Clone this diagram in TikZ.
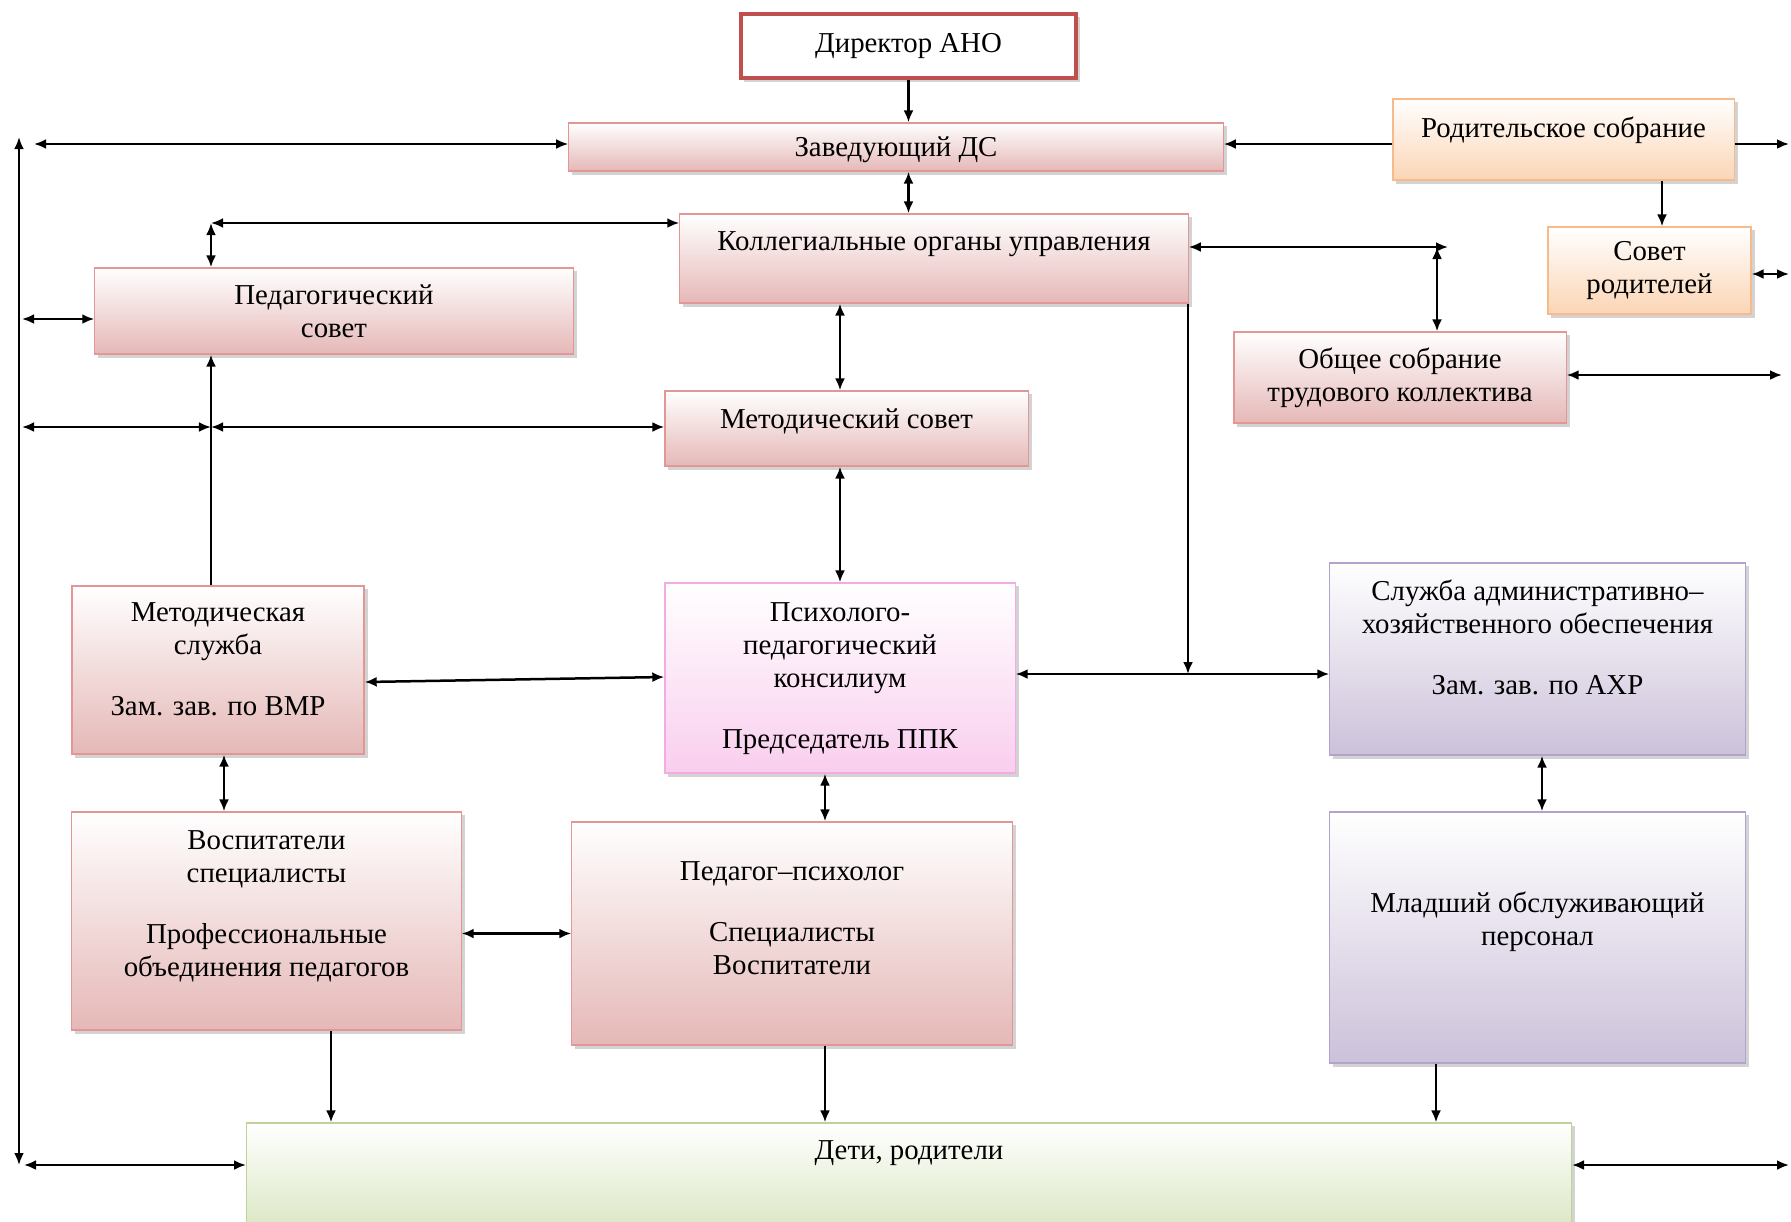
\documentclass[tikz,border=0pt]{standalone}
\usepackage{fontspec}
\setmainfont{Liberation Serif}
\usetikzlibrary{positioning}
\usetikzlibrary{arrows.meta}
\usetikzlibrary{shadows}
\definecolor{pinkb}{RGB}{229,184,183}
\definecolor{pinkd}{RGB}{228,150,150}
\definecolor{orngb}{RGB}{251,213,181}
\definecolor{orngd}{RGB}{247,186,138}
\definecolor{violb}{RGB}{204,193,218}
\definecolor{viold}{RGB}{178,162,204}
\definecolor{grenb}{RGB}{215,228,189}
\definecolor{grend}{RGB}{190,212,150}
\definecolor{magb}{RGB}{249,206,238}
\definecolor{magd}{RGB}{244,170,226}
\definecolor{dirred}{RGB}{192,80,77}

\begin{document}
\begin{tikzpicture}[x=.01cm,y=-.01cm,line width=.025cm,>={Latex[length=.12cm,width=.1cm]},font=\fontsize{8.2}{9.4}\selectfont]
\tikzstyle{box}=[draw,rectangle,inner sep=0pt,align=center,line width=.012cm,drop shadow={shadow xshift=.035cm,shadow yshift=-.035cm,opacity=.35}]
\tikzstyle{pinkbox}=[box,draw=pinkd,top color=white,bottom color=pinkb]
\tikzstyle{orngbox}=[box,draw=orngd,top color=white,bottom color=orngb]
\tikzstyle{violbox}=[box,draw=viold,top color=white,bottom color=violb]
\tikzstyle{grenbox}=[box,draw=grend,top color=white,bottom color=grenb]
\tikzstyle{magbox}=[box,draw=magd,top color=white,bottom color=magb]
\tikzstyle{toptext}=[align=center,inner sep=0pt,anchor=north,yshift=-.17cm]

\clip (0,0) rectangle (1791,1221);

% top row
\draw (908.5,46) node[box,draw=dirred,line width=.045cm,fill=white,drop shadow={opacity=0},minimum width=3.35cm,minimum height=.64cm] (dir) {Директор АНО}; % dir
\draw (896,147) node[pinkbox,text depth=0pt,minimum width=6.54cm,minimum height=.48cm] (zav) {Заведующий ДС}; % zav
\draw (1563.5,139.5) node[orngbox,minimum width=3.41cm,minimum height=.81cm,label={[toptext]north:{Родительское собрание}}] (rod) {}; % rod
\draw (1649.5,270.5) node[orngbox,minimum width=2.03cm,minimum height=.87cm] (sovrod) {Совет\\родителей}; % sovrod

% councils
\draw (934,258.5) node[pinkbox,minimum width=5.08cm,minimum height=.89cm,label={[toptext]north:{Коллегиальные органы управления}}] (koll) {}; % koll
\draw (334,311) node[pinkbox,minimum width=4.78cm,minimum height=.86cm] (ped) {Педагогический\\совет}; % ped
\draw (1400,377.5) node[pinkbox,minimum width=3.32cm,minimum height=.91cm] (obsh) {Общее собрание\\трудового коллектива}; % obsh
\draw (846.5,428.5) node[pinkbox,minimum width=3.63cm,minimum height=.75cm,label={[toptext]north:{Методический совет}}] (metsov) {}; % metsov

% services
\draw (218,670) node[pinkbox,minimum width=2.92cm,minimum height=1.68cm,label={[toptext,yshift=.01cm]north:{Методическая\\служба\\[8pt]Зам. зав. по ВМР}}] (metsl) {}; % metsl
\draw (840,678) node[magbox,minimum width=3.5cm,minimum height=1.9cm,label={[toptext,yshift=-.02cm]north:{Психолого-\\педагогический\\консилиум\\[8pt]Председатель ППК}}] (ppk) {}; % ppk
\draw (1537.5,659) node[violbox,minimum width=4.15cm,minimum height=1.92cm,label={[toptext,yshift=.01cm]north:{Служба административно–\\хозяйственного обеспечения\\[8pt]Зам. зав. по АХР}}] (axo) {}; % axo

% staff
\draw (266.5,921) node[pinkbox,minimum width=3.89cm,minimum height=2.18cm,label={[toptext,yshift=-.01cm]north:{Воспитатели\\специалисты\\[8pt]Профессиональные\\объединения педагогов}}] (vosp) {}; % vosp
\draw (792,933.5) node[pinkbox,minimum width=4.4cm,minimum height=2.23cm,label={[toptext,yshift=-.22cm]north:{Педагог–психолог\\[8pt]Специалисты\\Воспитатели}}] (pedpsy) {}; % pedpsy
\draw (1537.5,937.5) node[violbox,minimum width=4.15cm,minimum height=2.51cm,label={[toptext,yshift=-.62cm]north:{Младший обслуживающий\\персонал}}] (mlad) {}; % mlad
\draw (909,1182) node[grenbox,minimum width=13.24cm,minimum height=1.18cm,label={[toptext]north:{Дети, родители}}] (deti) {}; % deti

% free ends
\coordinate (L1) at (19,137);
\coordinate (L2) at (19,1165);
\coordinate (za) at (34,144);
\coordinate (pa) at (22,319);
\coordinate (ma) at (22,427);
\coordinate (mb) at (211,427);
\coordinate (mc) at (211,223);
\coordinate (da) at (24,1165);
\coordinate (ra) at (1789,144);
\coordinate (rb) at (1789,274);
\coordinate (rc) at (1782,375);
\coordinate (rd) at (1789,1165);
\coordinate (rs) at (1662,0);
\coordinate (cy) at (840,0);
\coordinate (ka) at (1437,247);
\coordinate (kb) at (1448,247);
\coordinate (ja) at (1188,674);
\coordinate (va) at (224,0);
\coordinate (vb) at (331,0);
\coordinate (pb) at (825,0);
\coordinate (mx) at (1542,0);
\coordinate (my) at (1436,0);

% left bus
\draw[<->] (L1) -- (L2);
\draw[<->] (za) -- (za -| zav.west);
\draw[<->] (pa) -- (pa -| ped.west);
\draw[<->] (ma) -- (mb);
\draw[<->] (mb) -- (mb -| metsov.west);
\draw[<->] (mc) -- (mc -| koll.west);
\draw[<->] (mc) -- (mc |- ped.north);
\draw[->] (mb |- metsl.north) -- (mb |- ped.south);
\draw[<->] (da) -- (da -| deti.west);

% right side
\draw[->] (rod.west |- za) -- (za -| zav.east);
\draw[->] (rod.east |- ra) -- (ra);
\draw[->] (rs |- rod.south) -- (rs |- sovrod.north);
\draw[<->] (rb -| sovrod.east) -- (rb);
\draw[<->] (rc -| obsh.east) -- (rc);
\draw[<->] (rd -| deti.east) -- (rd);

% centre
\draw[->] (dir.south) -- (dir.south |- zav.north);
\draw[<->] (dir.south |- zav.south) -- (dir.south |- koll.north);
\draw[<->] (cy |- koll.south) -- (cy |- metsov.north);
\draw[<->] (cy |- metsov.south) -- (cy |- ppk.north);
\draw[<->] (koll.east |- ka) -- (kb);
\draw[<->] (ka) -- (ka |- obsh.north);
\draw[->] (ja |- koll.south) -- (ja);
\draw[<->] (ja -| ppk.east) -- (ja -| axo.west);
\draw[<->] ([yshift=-.12cm]metsl.east) -- ([yshift=.01cm]ppk.west);

% lower row
\draw[<->] (va |- metsl.south) -- (va |- vosp.north);
\draw[<->] (pb |- ppk.south) -- (pb |- pedpsy.north);
\draw[<->] (vosp.east |- pedpsy.west) -- (pedpsy.west);
\draw[<->] (mx |- axo.south) -- (mx |- mlad.north);
\draw[->] (vb |- vosp.south) -- (vb |- deti.north);
\draw[->] (pb |- pedpsy.south) -- (pb |- deti.north);
\draw[->] (my |- mlad.south) -- (my |- deti.north);
\end{tikzpicture}
\end{document}
